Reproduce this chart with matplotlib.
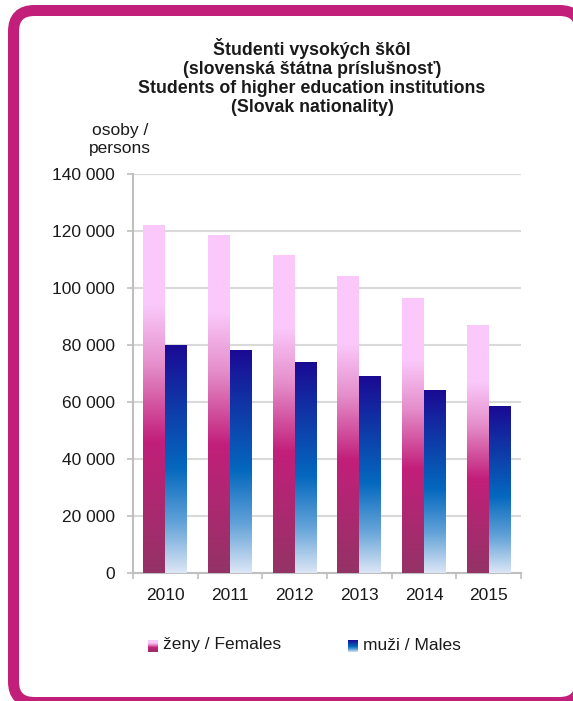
import numpy as np
import matplotlib
matplotlib.use("Agg")
import matplotlib.pyplot as plt
from matplotlib.colors import LinearSegmentedColormap
from matplotlib.patches import FancyBboxPatch
from matplotlib.transforms import IdentityTransform
from matplotlib.ticker import FuncFormatter, FixedLocator

years = ['2010', '2011', '2012', '2013', '2014', '2015']
females = [122100, 118500, 111500, 104200, 96300, 86900]
males = [80000, 77900, 73700, 68800, 64000, 58400]

plt.rcParams['font.family'] = ['Liberation Sans', 'DejaVu Sans']

W, H = 573, 701
fig = plt.figure(figsize=(W / 100, H / 100), dpi=100)

def fx(px):
    return px / W

def fy(py):
    return 1 - py / H

# rounded magenta frame (pixel coordinates), kept behind the axes
frame = FancyBboxPatch((13.5, -1.5), 567, 692,
                       boxstyle="round,pad=0,rounding_size=21",
                       transform=IdentityTransform(), facecolor='white',
                       edgecolor='#C21F7A', linewidth=11 * 0.72, zorder=-5)
fig.patches.append(frame)

ax = fig.add_axes([fx(133), fy(573), fx(521) - fx(133), fy(174) - fy(573)])
ax.set_facecolor('none')

fem_cmap = LinearSegmentedColormap.from_list('fem', [
    (0.0, '#943366'), (0.38, '#C21F7A'), (0.6, '#E58FCB'),
    (0.77, '#FAC8FA'), (1.0, '#FAC8FA')])
male_cmap = LinearSegmentedColormap.from_list('male', [
    (0.0, '#DCE6F5'), (0.22, '#62A2D8'), (0.46, '#0468BE'),
    (0.75, '#1036A6'), (1.0, '#1A0A94')])

x = np.arange(len(years))
bw = 0.34
b1 = ax.bar(x - bw / 2, females, bw, color='none', zorder=3)
b2 = ax.bar(x + bw / 2, males, bw, color='none', zorder=3)

grad = np.linspace(0, 1, 256).reshape(-1, 1)
for bars, cmap in ((b1, fem_cmap), (b2, male_cmap)):
    for b in bars:
        x0, w, h = b.get_x(), b.get_width(), b.get_height()
        ax.imshow(grad, cmap=cmap, origin='lower', aspect='auto',
                  extent=[x0, x0 + w, 0, h], zorder=3, interpolation='bilinear')

ax.set_xlim(-0.5, len(years) - 0.5)
ax.set_ylim(0, 140000)
ax.set_yticks(np.arange(0, 140001, 20000))
ax.yaxis.set_major_formatter(FuncFormatter(lambda v, p: f"{int(v):,}".replace(',', ' ')))
ax.set_xticks(x)
ax.set_xticklabels(years)
ax.xaxis.set_minor_locator(FixedLocator(np.arange(-0.5, len(years), 1)))

ax.grid(axis='y', color='#D9D9D9', linewidth=1.5, zorder=0)
ax.set_axisbelow(True)
for s in ('top', 'right'):
    ax.spines[s].set_visible(False)
for s in ('left', 'bottom'):
    ax.spines[s].set_color('#BFBFBF')
    ax.spines[s].set_linewidth(1.5)

ax.tick_params(axis='y', labelsize=12.5, length=4.5, width=1.2, color='#BFBFBF',
               pad=8.5, labelcolor='#1a1a1a')
ax.tick_params(axis='x', which='major', labelsize=12.5, length=0, pad=11,
               labelcolor='#1a1a1a')
ax.tick_params(axis='x', which='minor', length=4.5, width=1.2, color='#BFBFBF')

fig.text(fx(312), fy(77),
         "Študenti vysokých škôl\n(slovenská štátna príslušnosť)\n"
         "Students of higher education institutions\n(Slovak nationality)",
         ha='center', va='center', fontsize=12.8, fontweight='bold',
         linespacing=1.17, color='#1a1a1a')

fig.text(fx(120), fy(139), "osoby /\npersons", ha='center', va='center',
         fontsize=12.5, linespacing=1.25, color='#1a1a1a')

# legend with gradient swatches
for (sx, cmap, label) in ((148, fem_cmap, 'ženy / Females'),
                          (348, male_cmap, 'muži / Males')):
    sax = fig.add_axes([fx(sx), fy(652), fx(10), 12 / H])
    sax.imshow(grad, cmap=cmap, origin='lower', aspect='auto', extent=[0, 1, 0, 1])
    sax.set_axis_off()
    fig.text(fx(sx + 15), fy(645), label, ha='left', va='center',
             fontsize=12.5, color='#1a1a1a')

fig.savefig('out.png', dpi=100)
